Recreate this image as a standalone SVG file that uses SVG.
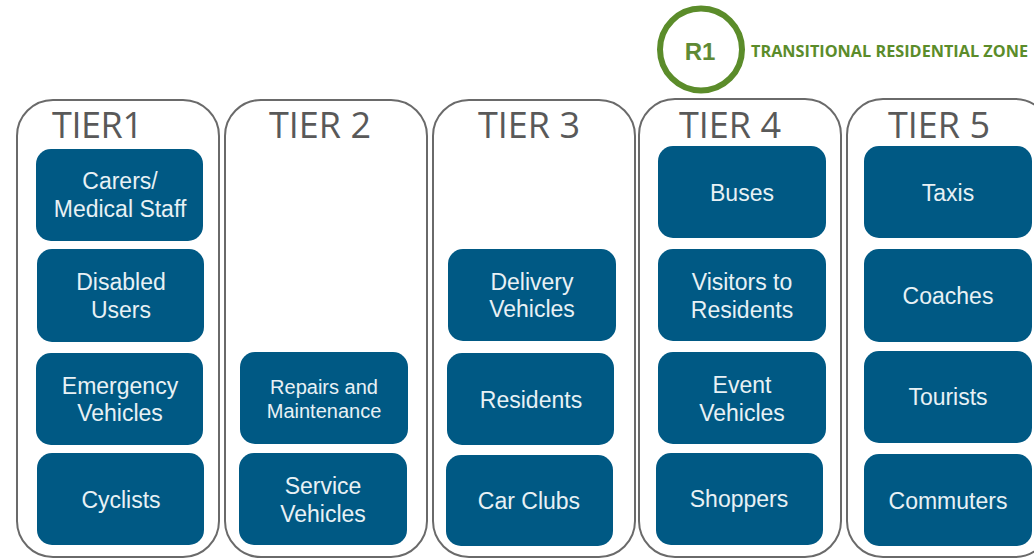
<svg xmlns="http://www.w3.org/2000/svg" width="1034" height="558" viewBox="0 0 1034 558">
<style>
.p{fill:#fff;stroke:#6a6a6a;stroke-width:2}
.b{fill:#005984}
.t{font-family:"Liberation Sans",Arial,sans-serif;font-size:23px;fill:#e8f1f5;text-anchor:middle}
.h{font-family:"Open Sans","Liberation Sans",sans-serif;font-size:36px;fill:#595959;text-anchor:middle}
</style>
<rect width="1034" height="558" fill="#fff"/>
<g id="zone">
<circle cx="701" cy="49.5" r="41" fill="none" stroke="#5b8c2a" stroke-width="6"/>
<text x="700" y="60" font-family="'Liberation Sans',sans-serif" font-size="24" font-weight="bold" fill="#5f8a35" text-anchor="middle">R1</text>
<text x="751" y="57" font-family="'Open Sans','Liberation Sans',sans-serif" font-size="16" font-weight="bold" fill="#5b8c2a" textLength="277" lengthAdjust="spacingAndGlyphs">TRANSITIONAL RESIDENTIAL ZONE</text>
</g>
<g id="tier1"><rect class="p" x="17" y="100" width="202" height="457" rx="36"/><text class="h" x="97.500" y="138" textLength="91" lengthAdjust="spacing">TIER1</text></g>
<g id="tier2"><rect class="p" x="225" y="100" width="202" height="457" rx="36"/><text class="h" x="320" y="138">TIER 2</text></g>
<g id="tier3"><rect class="p" x="433" y="100" width="202" height="457" rx="36"/><text class="h" x="529" y="138">TIER 3</text></g>
<g id="tier4"><rect class="p" x="639" y="99" width="202" height="458" rx="36"/><text class="h" x="730" y="138">TIER 4</text></g>
<g id="tier5"><rect class="p" x="847" y="99" width="204" height="458" rx="36"/><text class="h" x="939" y="138">TIER 5</text></g>

<g id="carers"><rect class="b" x="36" y="149" width="167" height="92" rx="15"/><text class="t" x="120" y="189">Carers/</text><text class="t" x="120" y="217">Medical Staff</text></g>
<g id="disabled"><rect class="b" x="37" y="249" width="167" height="93" rx="15"/><text class="t" x="121" y="290">Disabled</text><text class="t" x="121" y="318">Users</text></g>
<g id="emergency"><rect class="b" x="36" y="353" width="167" height="92" rx="15"/><text class="t" x="120" y="394">Emergency</text><text class="t" x="120" y="421">Vehicles</text></g>
<g id="cyclists"><rect class="b" x="37" y="453" width="167" height="92" rx="15"/><text class="t" x="121" y="508">Cyclists</text></g>

<g id="repairs"><rect class="b" x="240" y="352" width="168" height="92" rx="15"/><text class="t" x="324" y="394" style="font-size:20px">Repairs and</text><text class="t" x="324" y="418" style="font-size:20px">Maintenance</text></g>
<g id="service"><rect class="b" x="239" y="453" width="168" height="92" rx="15"/><text class="t" x="323" y="494">Service</text><text class="t" x="323" y="522">Vehicles</text></g>

<g id="delivery"><rect class="b" x="448" y="249" width="168" height="92" rx="15"/><text class="t" x="532" y="290">Delivery</text><text class="t" x="532" y="317">Vehicles</text></g>
<g id="residents"><rect class="b" x="447" y="353" width="167" height="92" rx="15"/><text class="t" x="531" y="408">Residents</text></g>
<g id="carclubs"><rect class="b" x="446" y="455" width="167" height="91" rx="15"/><text class="t" x="529" y="509">Car Clubs</text></g>

<g id="buses"><rect class="b" x="658" y="146" width="168" height="92" rx="15"/><text class="t" x="742" y="201">Buses</text></g>
<g id="visitors"><rect class="b" x="658" y="249" width="168" height="92" rx="15"/><text class="t" x="742" y="290">Visitors to</text><text class="t" x="742" y="318">Residents</text></g>
<g id="event"><rect class="b" x="658" y="352" width="168" height="92" rx="15"/><text class="t" x="742" y="393">Event</text><text class="t" x="742" y="421">Vehicles</text></g>
<g id="shoppers"><rect class="b" x="656" y="453" width="167" height="92" rx="15"/><text class="t" x="739" y="507">Shoppers</text></g>

<g id="taxis"><rect class="b" x="864" y="146" width="168" height="92" rx="15"/><text class="t" x="948" y="201">Taxis</text></g>
<g id="coaches"><rect class="b" x="864" y="249" width="168" height="93" rx="15"/><text class="t" x="948" y="304">Coaches</text></g>
<g id="tourists"><rect class="b" x="864" y="351" width="168" height="92" rx="15"/><text class="t" x="948" y="405">Tourists</text></g>
<g id="commuters"><rect class="b" x="864" y="454" width="168" height="92" rx="15"/><text class="t" x="948" y="509">Commuters</text></g>
<g id="connectors"/>
</svg>
